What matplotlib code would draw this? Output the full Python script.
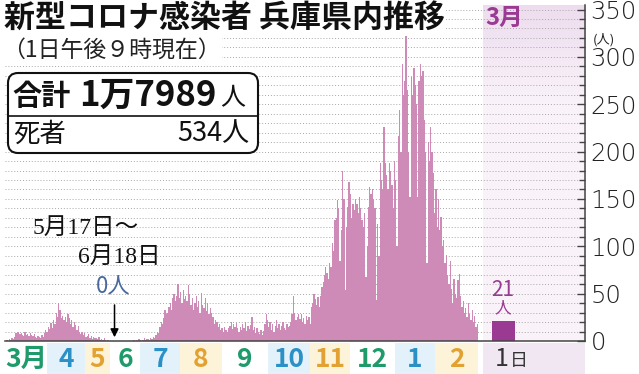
import numpy as np
import matplotlib
matplotlib.use('Agg')
import matplotlib.pyplot as plt
from matplotlib.patches import FancyBboxPatch
from matplotlib.ticker import MultipleLocator

plt.rcParams['font.family'] = ['Noto Sans CJK JP', 'DejaVu Sans']

# daily new cases in Hyogo, Mar 2020 - Feb 2021
cases = [
    0, 1, 0, 2, 1, 3, 2, 4, 8, 10,
    9, 7, 8, 6, 5, 9, 6, 7, 5, 8,
    6, 5, 7, 4, 3, 5, 4, 3, 6, 4,
    8, 12, 10, 15, 13, 19, 14, 22, 18, 30,
    25, 40, 33, 24, 26, 22, 25, 20, 29, 24,
    18, 22, 15, 20, 17, 12, 16, 9, 7, 10,
    6, 8, 4, 5, 7, 3, 5, 2, 4, 3,
    3, 2, 4, 1, 2, 1, 3, 1, 0, 1,
    0, 0, 0, 0, 0, 0, 0, 0, 0, 0,
    0, 0, 0, 0, 0, 0, 0, 0, 0, 1,
    0, 1, 0, 2, 1, 0, 1, 3, 1, 2,
    2, 1, 3, 2, 4, 3, 6, 10, 8, 15,
    20, 18, 24, 33, 28, 30, 36, 40, 33, 45,
    50, 42, 48, 60, 45, 52, 40, 54, 44, 48,
    42, 59, 50, 38, 45, 33, 40, 47, 36, 42,
    30, 51, 38, 35, 45, 32, 40, 28, 35, 30,
    25, 18, 22, 20, 15, 18, 12, 14, 10, 15,
    12, 10, 14, 16, 20, 13, 18, 15, 19, 14,
    10, 15, 12, 18, 14, 20, 11, 16, 13, 17,
    25, 12, 15, 8, 14, 10, 7, 12, 6, 11,
    18, 29, 22, 15, 20, 12, 18, 10, 16, 22,
    14, 18, 12, 16, 20, 14, 12, 18, 15, 16,
    20, 29, 47, 30, 22, 25, 28, 23, 29, 20,
    24, 18, 26, 22, 25, 18, 36, 40, 50, 44,
    38, 46, 36, 48, 57, 62, 70, 78, 72, 65,
    82, 78, 103, 95, 128, 130, 149, 140, 85, 117,
    180, 150, 54, 120, 142, 168, 155, 130, 145, 138,
    150, 145, 135, 152, 140, 128, 120, 135, 68, 100,
    142, 163, 155, 161, 150, 140, 43, 124, 90, 188,
    170, 160, 226, 188, 175, 160, 188, 180, 165, 140,
    190, 170, 100, 216, 244, 200, 293, 260, 275, 322,
    265, 200, 152, 279, 260, 288, 270, 250, 152, 275,
    293, 280, 285, 233, 200, 82, 210, 190, 226, 200,
    177, 135, 160, 120, 150, 117, 131, 100, 107, 82,
    91, 70, 60, 85, 55, 40, 65, 50, 45, 64,
    71, 48, 36, 42, 30, 35, 25, 40, 28, 22,
    33, 20, 26, 15, 18,
]
march_1 = 21
total_text = '1万7989'
deaths = 534

month_labels = ['3月', '4', '5', '6', '7', '8', '9', '10', '11', '12', '1', '2']
# band edges in bar units, as laid out in the graphic
month_edges = [-0.5, 31.9, 61.2, 80.5, 103.7, 134.5, 166.9, 202.4, 234.8,
               265.7, 300.4, 331.3, 364.5]
text_colors = ['#1f9a6a', '#2b90c6', '#e2a233'] * 4
band_colors = ['#ffffff', '#e3f2fa', '#fdf3d8'] * 4

pink = '#cf8bb7'
purple = '#9b3a93'
x_max = 447
y_max = 355
march_start = 368
march_x = 384

fig = plt.figure(figsize=(6.39, 3.74), dpi=100)
ax = fig.add_axes([5 / 639, 33 / 374, 580 / 639, 336.2 / 374])

# lavender area for March 2021
grad = np.ones((100, 1, 3))
top = np.array([0.93, 0.865, 0.935])
low = np.array([0.98, 0.955, 0.98])
for k in range(100):
    t = min(k / 30.0, 1.0)
    grad[k, 0] = top * (1 - t) + low * t
ax.imshow(grad, extent=[march_start, x_max, 0, y_max], aspect='auto',
          origin='upper', zorder=0)

ax.stairs(cases, np.arange(len(cases) + 1) - 0.5, fill=True, color=pink,
          linewidth=0, zorder=2)
ax.bar(march_x, march_1, width=18, color=purple, linewidth=0, zorder=2)

ax.set_xlim(-0.5, x_max)
ax.set_ylim(0, y_max)
ax.yaxis.set_major_locator(MultipleLocator(50))
ax.yaxis.set_minor_locator(MultipleLocator(10))
ax.set_yticks(range(0, 351, 50))
ax.grid(which='both', axis='y', linestyle=(0, (1, 2)), color='#a8a8a8',
        linewidth=0.7, zorder=1)
ax.set_axisbelow(True)
ax.yaxis.tick_right()
ax.set_xticks([])
ax.tick_params(axis='y', which='major', direction='in', length=6, width=1,
               color='#444444', labelsize=17.5, pad=4, labelcolor='#222222')
ax.tick_params(axis='y', which='minor', direction='in', length=4, width=1,
               color='#444444')
for lab in ax.get_yticklabels():
    lab.set_family(['DejaVu Sans'])
    lab.set_fontweight('light')
for s in ['left', 'top']:
    ax.spines[s].set_visible(False)
for s in ['right', 'bottom']:
    ax.spines[s].set_color('#444444')
    ax.spines[s].set_linewidth(1.1)
ax.patch.set_alpha(0)

ax.annotate('', xy=(84, 1), xytext=(84, 41),
            arrowprops=dict(arrowstyle='-|>', color='black', lw=1.1,
                            mutation_scale=12), zorder=5)

# month band under the axis
band = fig.add_axes([5 / 639, 0, 580 / 639, 31 / 374])
band.set_xlim(-0.5, x_max)
band.set_ylim(0, 1)
band.axis('off')
for i, lab in enumerate(month_labels):
    band.axvspan(month_edges[i], month_edges[i + 1], color=band_colors[i], lw=0)
    band.text((month_edges[i] + month_edges[i + 1]) / 2, 0.47, lab,
              ha='center', va='center', fontsize=19, fontweight='bold',
              color=text_colors[i])
band.axvspan(march_start, x_max, color='#f1e7f2', lw=0)
band.text(march_x - 1, 0.47, '1', ha='center', va='center', fontsize=18,
          color='#333333')
band.text(march_x + 12, 0.42, '日', ha='center', va='center', fontsize=13,
          color='#333333')

# text layer in pixel coordinates
ov = fig.add_axes([0, 0, 1, 1])
ov.set_xlim(0, 639)
ov.set_ylim(374, 0)
ov.axis('off')
ov.patch.set_alpha(0)

ov.text(4, 18, '新型コロナ感染者 兵庫県内推移', fontsize=22.3, fontweight='bold',
        ha='left', va='center', color='#111111',
        bbox=dict(facecolor='white', edgecolor='none', pad=1))
ov.text(2, 50, '（1日午後９時現在）', fontsize=16.5, ha='left', va='center',
        color='#222222', bbox=dict(facecolor='white', edgecolor='none', pad=1))

box = FancyBboxPatch((8, 73), 250, 80, boxstyle='round,pad=0,rounding_size=10',
                     facecolor='white', edgecolor='#111111', linewidth=1.5)
ov.add_patch(box)
ov.plot([8, 258], [116, 116], color='#111111', lw=1.2)
ov.text(12, 96, '合計', fontsize=21, fontweight='bold', ha='left', va='center',
        color='#111111')
ov.text(216, 95, total_text, fontsize=25, fontweight='bold', ha='right',
        va='center', color='#111111')
ov.text(233, 98, '人', fontsize=18, ha='center', va='center', color='#111111')
ov.text(13, 134, '死者', fontsize=19, ha='left', va='center', color='#111111')
ov.text(250, 134, f'{deaths}人', fontsize=19.5, ha='right', va='center',
        color='#111111')

serif = ['Liberation Serif', 'Noto Sans CJK JP']
ov.text(86, 228, '5月17日～', fontsize=17, ha='center', va='center',
        color='#111111', family=serif)
ov.text(119, 257, '6月18日', fontsize=17, ha='center', va='center',
        color='#111111', family=serif)
ov.text(113, 287, '0人', fontsize=16, ha='center', va='center',
        color='#4a6a9e')

ov.text(504, 18, '3月', fontsize=17, fontweight='bold', ha='center',
        va='center', color=purple)
ov.text(503, 290, str(march_1), fontsize=15, ha='center', va='center',
        color=purple)
ov.text(503, 308, '人', fontsize=12, ha='center', va='center', color=purple)
ov.text(604, 40, '(人)', fontsize=9.5, ha='center', va='center',
        color='#222222')

fig.savefig('out.png', dpi=100)
